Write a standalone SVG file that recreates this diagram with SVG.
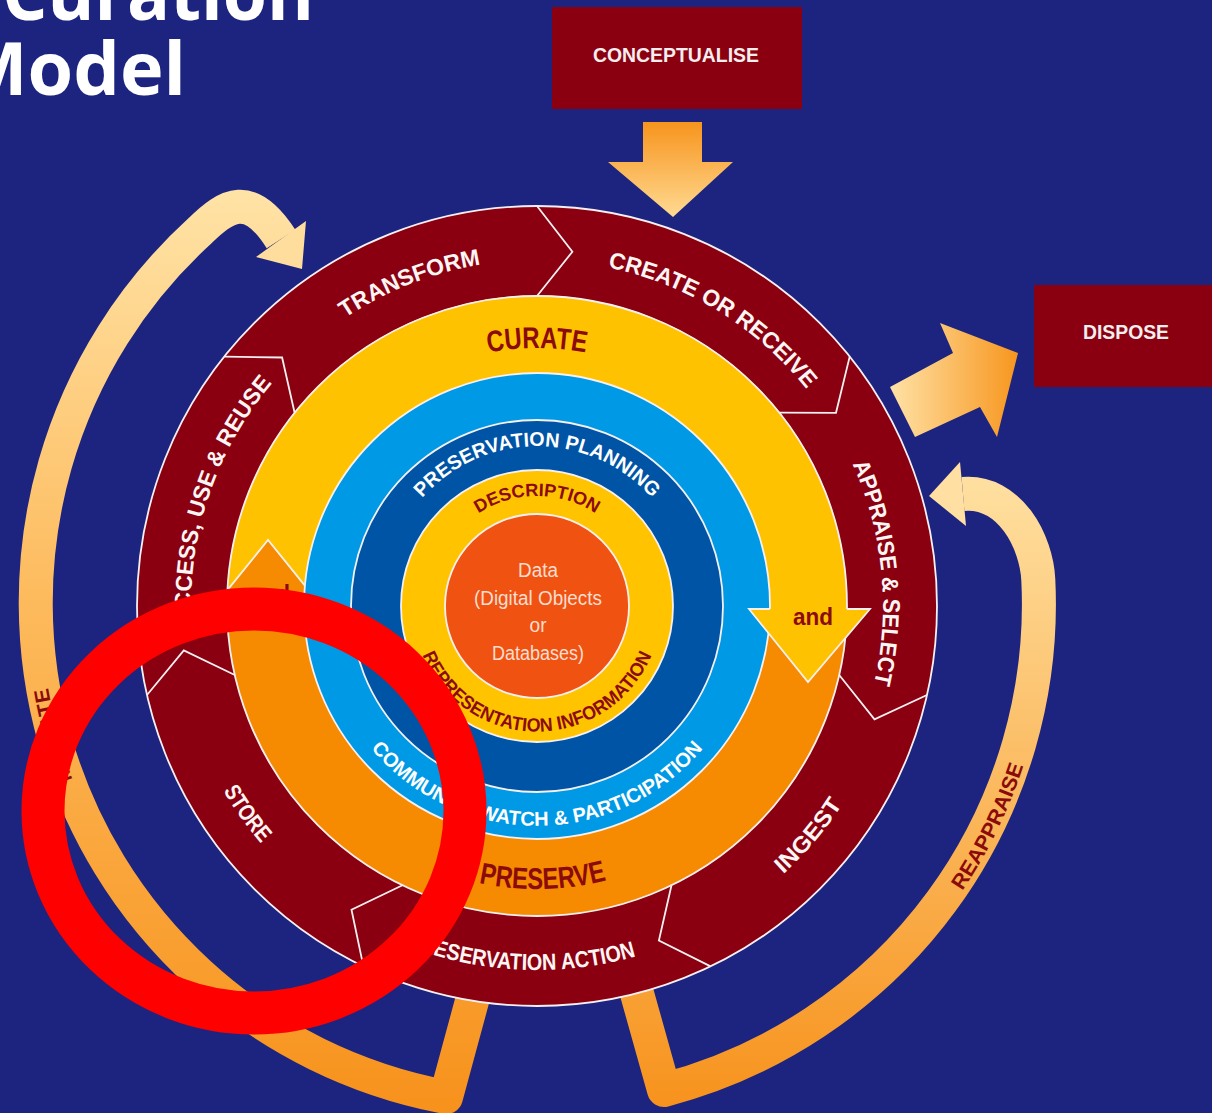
<svg xmlns="http://www.w3.org/2000/svg" width="1212" height="1113" viewBox="0 0 1212 1113">
<style>
.seg{font-family:"Liberation Sans",Arial,sans-serif;font-weight:bold;font-size:23px;fill:#FFF6F4}
.ring{font-family:"Liberation Sans",Arial,sans-serif;font-weight:bold;fill:#8B0B0B}
.blue{font-family:"Liberation Sans",Arial,sans-serif;font-weight:bold;fill:#FFFFFF}
.box{font-family:"Liberation Sans",Arial,sans-serif;font-weight:bold;font-size:21px;fill:#F4EEEE}
.data{font-family:"Liberation Sans",Arial,sans-serif;font-size:20px;fill:#FBDDD0}
.wl{fill:none;stroke:#F6F0F0;stroke-width:1.8}
.title{font-family:"Open Sans","Liberation Sans",sans-serif;font-weight:bold;font-size:74px;fill:#FFFFFF}
</style>
<defs>
<linearGradient id="gMig" gradientUnits="userSpaceOnUse" x1="0" y1="190" x2="0" y2="1110">
<stop offset="0" stop-color="#FFE3A6"/><stop offset="0.45" stop-color="#FDBA5C"/><stop offset="1" stop-color="#F7921C"/>
</linearGradient>
<linearGradient id="gRea" gradientUnits="userSpaceOnUse" x1="0" y1="460" x2="0" y2="1110">
<stop offset="0" stop-color="#FFE2A4"/><stop offset="1" stop-color="#F7921C"/>
</linearGradient>
<linearGradient id="gCon" gradientUnits="userSpaceOnUse" x1="0" y1="122" x2="0" y2="217">
<stop offset="0" stop-color="#F7941D"/><stop offset="1" stop-color="#FFDA92"/>
</linearGradient>
<linearGradient id="gDis" gradientUnits="userSpaceOnUse" x1="890" y1="0" x2="1018" y2="0">
<stop offset="0" stop-color="#FFE2A6"/><stop offset="1" stop-color="#F7961E"/>
</linearGradient>
<path id="p-transform" d="M 194.8 554.9 A 346 346 0 0 1 752.4 335.2"/>
<path id="p-create" d="M 371.9 301.9 A 346 346 0 0 1 882.9 615.1"/>
<path id="p-appraise" d="M 679.9 290.9 A 346 346 0 0 1 738.4 887.3"/>
<path id="p-access" d="M 277.8 835.3 A 346 346 0 0 1 468.0 267.0"/>
<path id="p-ingest" d="M 472.5 964.3 A 364 364 0 0 0 879.5 482.7"/>
<path id="p-pa" d="M 213.8 773.5 A 364 364 0 0 0 843.7 802.1"/>
<path id="p-store" d="M 205.5 455.6 A 364 364 0 0 0 572.5 968.3"/>
<path id="p-curate" d="M 313.6 477 A 258 258 0 0 1 760.4 477"/>
<path id="p-preserve" d="M 294.9 752.6 A 283 283 0 0 0 785 742.3"/>
<path id="p-pp" d="M 385.3 579.3 A 153 153 0 0 1 688.7 579.3"/>
<path id="p-desc" d="M 435.5 569.1 A 107 107 0 0 1 638.5 569.1"/>
<path id="p-repr" d="M 421.0 563.8 A 124 124 0 1 0 653.0 563.8"/>
<path id="p-cwp" d="M 334 532.1 A 217 217 0 1 0 740 532.1"/>
<path id="p-migrate" d="M 186.3 956.7 A 498 498 0 0 1 57.9 477.6"/>
<path id="p-reappraise" d="M 823.3 1030.4 A 512 512 0 0 0 1047.8 570.3"/>
</defs>
<rect x="0" y="0" width="1212" height="1113" fill="#1C2480"/>
<g id="title">
<text class="title" x="2" y="20" textLength="312" lengthAdjust="spacingAndGlyphs">Curation</text>
<text class="title" x="-42" y="95" textLength="228" lengthAdjust="spacingAndGlyphs">Model</text>
</g>
<g id="conceptualise">
<rect x="552" y="7" width="250" height="102" fill="#8A0011"/>
<text class="box" x="676" y="62" text-anchor="middle" textLength="166" lengthAdjust="spacingAndGlyphs">CONCEPTUALISE</text>
</g>
<g id="dispose">
<rect x="1034" y="285" width="190" height="102" fill="#8A0011"/>
<text class="box" x="1126" y="339" text-anchor="middle" textLength="86" lengthAdjust="spacingAndGlyphs">DISPOSE</text>
</g>
<g id="connectors">
<polygon points="643,122 702,122 702,162 733,162 673,217 608,162 643,162" fill="url(#gCon)"/>
<polygon points="890,387 953,353 940,323 1018,353 997,437 980,407 915,437" fill="url(#gDis)"/>
<path d="M 475 990 L 446 1097 A 503 503 0 0 1 200.4 230.4 C 226.4 205 249.5 190 281 239" fill="none" stroke="url(#gMig)" stroke-width="34" stroke-linejoin="round"/>
<polygon points="256,257 306,221 302,269" fill="#FFDD9C"/>
<path d="M 636 990 L 664 1090 A 502 502 0 0 0 1038.3 579.8 C 1036.5 542 1010 490 963 494" fill="none" stroke="url(#gRea)" stroke-width="34" stroke-linejoin="round"/>
<polygon points="960,462 966,526 929,496" fill="#FFE0A2"/>
<text class="ring" font-size="21"><textPath href="#p-migrate" startOffset="50%" text-anchor="middle" textLength="95" lengthAdjust="spacingAndGlyphs">MIGRATE</textPath></text>
<text class="ring" font-size="21"><textPath href="#p-reappraise" startOffset="50%" text-anchor="middle" textLength="140" lengthAdjust="spacingAndGlyphs">REAPPRAISE</textPath></text>
</g>
<g id="lifecycle-actions">
<circle cx="537" cy="606" r="400" fill="#8A0011"/>
</g>
<g id="curate-preserve">
<circle cx="537" cy="606" r="310" fill="#F68A00"/>
<path d="M 227.4 590.1 L 268 540 L 304.9 585.6 A 233 233 0 0 1 770 609 L 847 609 A 310 310 0 0 0 227.4 590.1 Z" fill="#FFC200"/>
</g>
<g id="community-watch"><circle cx="537" cy="606" r="233" fill="#0099E5"/></g>
<g id="preservation-planning"><circle cx="537" cy="606" r="186" fill="#0054A6"/></g>
<g id="description"><circle cx="537" cy="606" r="136" fill="#FFC300"/></g>
<g id="data"><circle cx="537" cy="606" r="92" fill="#F05311"/></g>
<g id="lines">
<circle class="wl" cx="537" cy="606" r="400"/>
<circle class="wl" cx="537" cy="606" r="310"/>
<circle class="wl" cx="537" cy="606" r="233"/>
<circle class="wl" cx="537" cy="606" r="186"/>
<circle class="wl" cx="537" cy="606" r="136"/>
<circle class="wl" cx="537" cy="606" r="92"/>
<polyline class="wl" points="537,206 572.4,251.7 537,296"/>
<polyline class="wl" points="849.7,356.6 836.0,412.8 779.4,412.7"/>
<polyline class="wl" points="927,695 874.5,719.3 839.2,675"/>
<polyline class="wl" points="710.6,966.4 658.9,940.5 671.5,885.3"/>
<polyline class="wl" points="363.4,966.4 351.5,909.8 402.5,885.3"/>
<polyline class="wl" points="147,695 183.8,650.4 234.8,675"/>
<polyline class="wl" points="224.3,356.6 282.1,357.5 294.6,412.7"/>
<polyline class="wl" points="227.4,590.1 268,540 304.9,585.6"/>
</g>
<g id="and-arrow">
<polygon points="749,609 870,609 808,682" fill="#FFC200"/>
<polyline class="wl" points="770,609 749,609 808,682 870,609 847,609"/>
<text class="ring" x="813" y="625" font-size="24" text-anchor="middle" textLength="40" lengthAdjust="spacingAndGlyphs">and</text>
<text class="ring" x="270" y="602" font-size="24" text-anchor="middle" textLength="40" lengthAdjust="spacingAndGlyphs">and</text>
</g>
<g id="labels">
<text class="seg"><textPath href="#p-transform" startOffset="50%" text-anchor="middle" textLength="147" lengthAdjust="spacingAndGlyphs">TRANSFORM</textPath></text>
<text class="seg"><textPath href="#p-create" startOffset="50%" text-anchor="middle" textLength="238" lengthAdjust="spacingAndGlyphs">CREATE OR RECEIVE</textPath></text>
<text class="seg"><textPath href="#p-appraise" startOffset="50%" text-anchor="middle" textLength="225" lengthAdjust="spacingAndGlyphs">APPRAISE &amp; SELECT</textPath></text>
<text class="seg"><textPath href="#p-ingest" startOffset="50%" text-anchor="middle" textLength="92" lengthAdjust="spacingAndGlyphs">INGEST</textPath></text>
<text class="seg"><textPath href="#p-pa" startOffset="50%" text-anchor="middle" textLength="234" lengthAdjust="spacingAndGlyphs">PRESERVATION ACTION</textPath></text>
<text class="seg"><textPath href="#p-store" startOffset="50%" text-anchor="middle" textLength="65" lengthAdjust="spacingAndGlyphs">STORE</textPath></text>
<text class="seg"><textPath href="#p-access" startOffset="50%" text-anchor="middle" textLength="261" lengthAdjust="spacingAndGlyphs">ACCESS, USE &amp; REUSE</textPath></text>
<text class="ring" font-size="30"><textPath href="#p-curate" startOffset="50%" text-anchor="middle" textLength="98" lengthAdjust="spacingAndGlyphs">CURATE</textPath></text>
<text class="ring" font-size="30"><textPath href="#p-preserve" startOffset="50%" text-anchor="middle" textLength="129" lengthAdjust="spacingAndGlyphs">PRESERVE</textPath></text>
<text class="blue" font-size="20"><textPath href="#p-pp" startOffset="50%" text-anchor="middle" textLength="260" lengthAdjust="spacingAndGlyphs">PRESERVATION PLANNING</textPath></text>
<text class="blue" font-size="20"><textPath href="#p-cwp" startOffset="50%" text-anchor="middle" textLength="378" lengthAdjust="spacingAndGlyphs">COMMUNITY WATCH &amp; PARTICIPATION</textPath></text>
<text class="ring" font-size="18"><textPath href="#p-desc" startOffset="50%" text-anchor="middle" textLength="124" lengthAdjust="spacingAndGlyphs">DESCRIPTION</textPath></text>
<text class="ring" font-size="19"><textPath href="#p-repr" startOffset="50%" text-anchor="middle" textLength="292" lengthAdjust="spacingAndGlyphs">REPRESENTATION INFORMATION</textPath></text>
<text class="data" x="538" y="577" text-anchor="middle" textLength="40" lengthAdjust="spacingAndGlyphs">Data</text>
<text class="data" x="538" y="605" text-anchor="middle" textLength="128" lengthAdjust="spacingAndGlyphs">(Digital Objects</text>
<text class="data" x="538" y="632" text-anchor="middle" textLength="17" lengthAdjust="spacingAndGlyphs">or</text>
<text class="data" x="538" y="660" text-anchor="middle" textLength="92" lengthAdjust="spacingAndGlyphs">Databases)</text>
</g>
<g id="highlight">
<ellipse cx="254" cy="811" rx="211" ry="202" fill="none" stroke="#FF0000" stroke-width="43"/>
</g>
</svg>
